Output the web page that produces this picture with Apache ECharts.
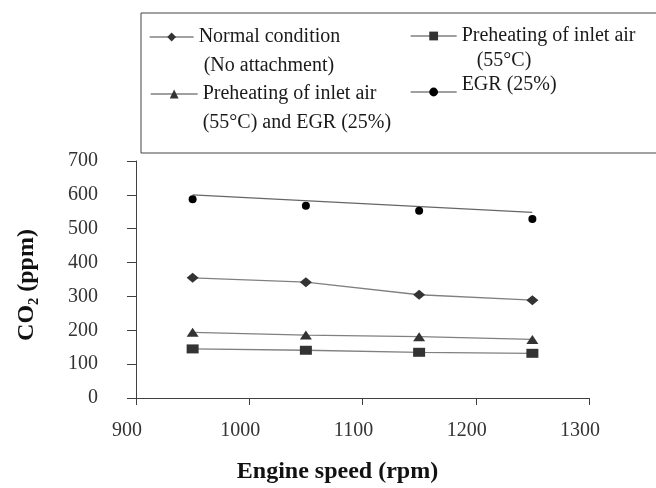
<!DOCTYPE html>
<html>
<head>
<meta charset="utf-8">
<script src="https://cdn.jsdelivr.net/npm/echarts@6/dist/echarts.min.js"></script>
<style>
  html, body { margin: 0; padding: 0; background: #fff; }
  #chart { width: 656px; height: 488px; }
</style>
</head>
<body>
<div id="chart"></div>
<script>
// engine speed (rpm) vs CO2 (ppm)
var speeds = [950, 1050, 1150, 1250];
var normalCO2 = [355, 342, 305, 289];
var preheatCO2 = [145, 141, 135, 132];
var preheatEgrCO2 = [194, 186, 181, 173];
var egrCO2 = [587, 568, 553, 529];
// straight line drawn over the EGR points
var egrLineSpeeds = [950, 1250];
var egrLineCO2 = [600, 548];

var xMin = 900, xMax = 1300, xStep = 100;
var yMin = 0, yMax = 700, yStep = 100;

// legend labels; the empty line keeps the icon level with the first line
var legendText = {
    'Normal condition': '\nNormal condition\n (No attachment)',
    'Preheating of inlet air (55°C)': '\nPreheating of inlet air\n   (55°C)',
    'Preheating of inlet air (55°C) and EGR (25%)': '\nPreheating of inlet air\n(55°C) and EGR (25%)',
    'EGR (25%)': 'EGR (25%)\n'
};

var serif = "'Liberation Serif', 'Times New Roman', serif";

function pairs(xs, ys) {
    return xs.map(function (x, i) { return [x, ys[i]]; });
}

function legendAt(name, left, top, itemWidth, lineHeight) {
    return {
        data: [name],
        left: left,
        top: top,
        padding: 0,
        itemWidth: itemWidth,
        itemHeight: 11,
        selectedMode: false,
        formatter: function (n) { return legendText[n]; },
        textStyle: {
            fontFamily: serif,
            fontSize: 20,
            color: '#1a1a1a',
            lineHeight: lineHeight
        },
        lineStyle: { color: '#808080', width: 1.3, opacity: 1, type: 'solid' }
    };
}

var lineStyle = { color: '#808080', width: 1.3 };

var myChart = echarts.init(document.getElementById('chart'));
myChart.setOption({
    animation: false,
    backgroundColor: '#fff',
    grid: { left: 136, right: 67, top: 161, bottom: 90 },
    graphic: [{
        type: 'rect',
        shape: { x: 141, y: 13, width: 530, height: 140 },
        style: { fill: 'none', stroke: '#444', lineWidth: 1 }
    }],
    legend: [
        legendAt('Normal condition', 149, -6.5, 44, 29),
        legendAt('Preheating of inlet air (55°C) and EGR (25%)', 150, 50.5, 47, 29),
        legendAt('Preheating of inlet air (55°C)', 410, -1.5, 46, 25),
        legendAt('EGR (25%)', 410, 75, 46, 14)
    ],
    xAxis: {
        type: 'value',
        min: xMin,
        max: xMax,
        interval: xStep,
        name: 'Engine speed (rpm)',
        nameLocation: 'middle',
        nameGap: 62,
        nameTextStyle: {
            fontFamily: serif,
            fontSize: 24,
            fontWeight: 'bold',
            color: '#111',
            padding: [0, 50, 0, 0]
        },
        axisLine: { show: true, lineStyle: { color: '#404040', width: 1 } },
        axisTick: { show: true, length: 7, lineStyle: { color: '#404040' } },
        axisLabel: {
            fontFamily: serif,
            fontSize: 20,
            color: '#333',
            margin: 23,
            padding: [0, 18, 0, 0],
            formatter: function (v) { return String(v); }
        },
        splitLine: { show: false }
    },
    yAxis: {
        type: 'value',
        min: yMin,
        max: yMax,
        interval: yStep,
        name: 'CO₂ (ppm)',
        nameLocation: 'middle',
        nameGap: 97,
        nameTextStyle: {
            fontFamily: serif,
            fontSize: 24,
            fontWeight: 'bold',
            color: '#111',
            padding: [0, 11, 0, 0]
        },
        axisLine: { show: true, lineStyle: { color: '#404040', width: 1 } },
        axisTick: { show: true, length: 9, lineStyle: { color: '#404040' } },
        axisLabel: {
            fontFamily: serif,
            fontSize: 20,
            color: '#333',
            margin: 38
        },
        splitLine: { show: false }
    },
    series: [
        {
            name: 'Normal condition',
            type: 'line',
            data: pairs(speeds, normalCO2),
            symbol: 'diamond',
            symbolSize: [12, 10],
            itemStyle: { color: '#333' },
            lineStyle: lineStyle
        },
        {
            name: 'Preheating of inlet air (55°C)',
            type: 'line',
            data: pairs(speeds, preheatCO2),
            symbol: 'rect',
            symbolSize: [12, 9],
            itemStyle: { color: '#333' },
            lineStyle: lineStyle
        },
        {
            name: 'Preheating of inlet air (55°C) and EGR (25%)',
            type: 'line',
            data: pairs(speeds, preheatEgrCO2),
            symbol: 'triangle',
            symbolSize: [12, 9],
            itemStyle: { color: '#333' },
            lineStyle: lineStyle
        },
        {
            name: 'EGR line',
            type: 'line',
            data: pairs(egrLineSpeeds, egrLineCO2),
            showSymbol: false,
            lineStyle: { color: '#666', width: 1.3 }
        },
        {
            name: 'EGR (25%)',
            type: 'line',
            data: pairs(speeds, egrCO2),
            symbol: 'circle',
            symbolSize: 8,
            itemStyle: { color: '#000' },
            lineStyle: { opacity: 0 }
        }
    ]
});
</script>
</body>
</html>
